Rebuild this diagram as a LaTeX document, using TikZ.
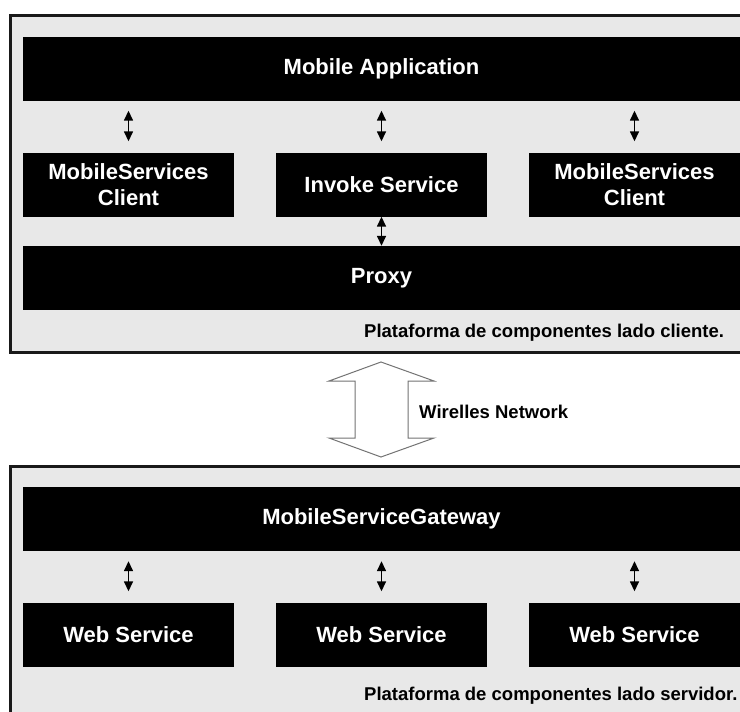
\documentclass[tikz,border=0pt]{standalone}
\usepackage{fontspec}
\setmainfont{Liberation Sans}
\usetikzlibrary{arrows.meta, positioning}

\tikzset{
  platform/.style={draw=black!90, line width=3pt, fill=black!9},
  bar/.style={fill=black, text=white, inner sep=0pt, minimum width=717pt, minimum height=64pt,
    font=\bfseries\fontsize{22}{26}\selectfont},
  comp/.style={fill=black, text=white, inner sep=0pt, align=center, minimum width=211pt, minimum height=64pt,
    font=\bfseries\fontsize{22}{26}\selectfont},
  note/.style={anchor=west, inner sep=0pt, font=\bfseries\fontsize{18.5}{22}\selectfont},
  link/.style={{Triangle[length=10pt,width=9pt]}-{Triangle[length=10pt,width=9pt]}, line width=1.5pt}
}

\begin{document}
\begin{tikzpicture}[x=1pt, y=-1pt]
    \clip (0,0) rectangle (740,712);

    % client side
    \draw[platform] (10,15) rectangle (760,352);
    \node[bar] (app) at (381.5,68.5) {Mobile Application};
    \node[comp] (mcs1) at (128.5,184.5) {MobileServices\\Client};
    \node[comp] (inv) at (381.5,184.5) {Invoke Service};
    \node[comp] (mcs2) at (634.5,184.5) {MobileServices\\Client};
    \node[bar] (proxy) at (381.5,278) {Proxy};
    \node[note] (cli) at (364,333) {Plataforma de componentes lado cliente.};

    \draw[link, shorten <=11pt, shorten >=10pt] (mcs1.north) -- (mcs1.north |- app.south);
    \draw[link, shorten <=11pt, shorten >=10pt] (inv.north) -- (app.south);
    \draw[link, shorten <=11pt, shorten >=10pt] (mcs2.north) -- (mcs2.north |- app.south);
    \draw[link] (inv.south) -- (inv.south |- proxy.north);

    % wireless link
    \draw[black!55, line width=1pt, fill=white]
        (381,362) -- (434,381) -- (408,381) -- (408,438) -- (434,438) -- (381,457)
        -- (329,438) -- (355,438) -- (355,381) -- (329,381) -- cycle;
    \node[note] (net) at (419,412) {Wirelles Network};

    % server side
    \draw[platform] (10,466) rectangle (760,740);
    \node[bar] (gw) at (381.5,519) {MobileServiceGateway};
    \node[comp] (ws1) at (128.5,634.5) {Web Service};
    \node[comp] (ws2) at (381.5,634.5) {Web Service};
    \node[comp] (ws3) at (634.5,634.5) {Web Service};
    \node[note] (srv) at (364,696) {Plataforma de componentes lado servidor.};

    \draw[link, shorten <=10pt, shorten >=11pt] (ws1.north |- gw.south) -- (ws1.north);
    \draw[link, shorten <=10pt, shorten >=11pt] (gw.south) -- (ws2.north);
    \draw[link, shorten <=10pt, shorten >=11pt] (ws3.north |- gw.south) -- (ws3.north);
\end{tikzpicture}
\end{document}
